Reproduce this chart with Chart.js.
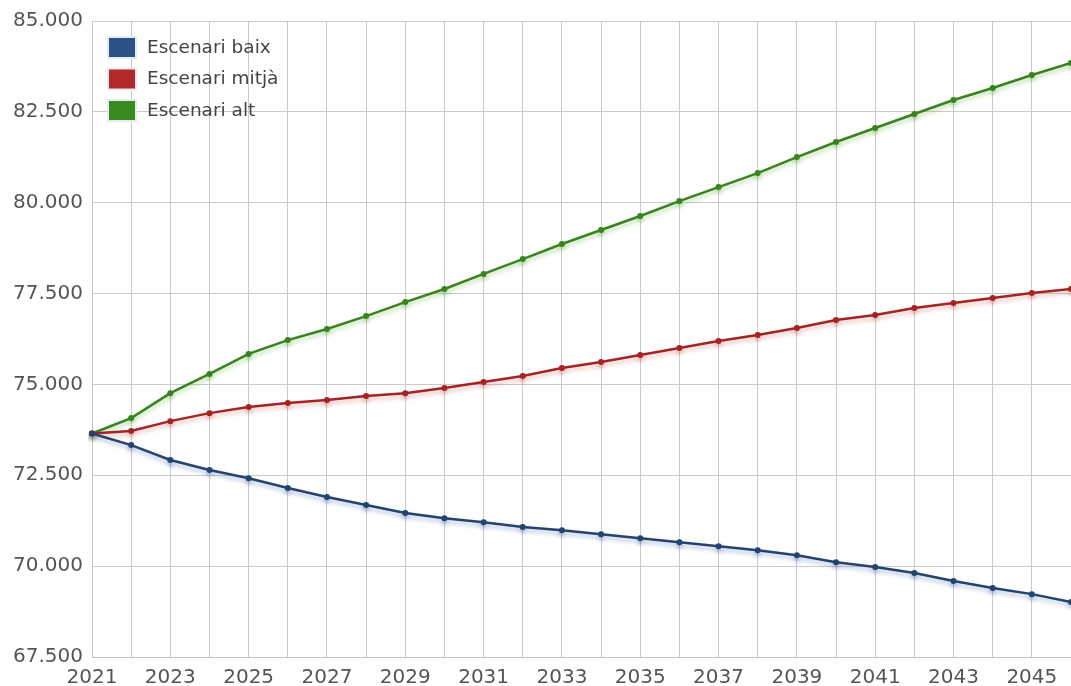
<!DOCTYPE html>
<html>
<head>
<meta charset="utf-8">
<script src="https://cdn.jsdelivr.net/npm/chart.js@4/dist/chart.umd.min.js"></script>
<style>
  html, body { margin: 0; padding: 0; background: #fff; }
  #wrap { width: 1071px; height: 686px; }
</style>
</head>
<body>
<div id="wrap"><canvas id="myChart" width="1071" height="686"></canvas></div>
<script>
const years = [2021, 2022, 2023, 2024, 2025, 2026, 2027, 2028, 2029, 2030, 2031, 2032, 2033,
  2034, 2035, 2036, 2037, 2038, 2039, 2040, 2041, 2042, 2043, 2044, 2045, 2046];

const baix = [73650, 73330, 72920, 72645, 72420, 72150, 71900, 71680, 71460, 71320, 71210, 71075, 70990,
  70880, 70770, 70660, 70550, 70440, 70300, 70110, 69975, 69810, 69590, 69400, 69230, 69010];

const mitja = [73650, 73720, 73990, 74210, 74380, 74490, 74570, 74680, 74760, 74900, 75065, 75230, 75450,
  75615, 75810, 76000, 76195, 76360, 76550, 76770, 76910, 77100, 77240, 77380, 77515, 77625];

const alt = [73650, 74075, 74760, 75290, 75840, 76220, 76525, 76880, 77265, 77625, 78040, 78450, 78865,
  79250, 79635, 80045, 80430, 80815, 81255, 81670, 82055, 82440, 82825, 83155, 83515, 83845];

const yTicks = [67500, 70000, 72500, 75000, 77500, 80000, 82500, 85000];

function fmt(v) {
  return String(v).replace(/\B(?=(\d{3})+(?!\d))/g, ".");
}

// soft shadow under each line, like the original
const lineShadow = {
  id: "lineShadow",
  beforeDatasetDraw(chart, args) {
    const ctx = chart.ctx;
    ctx.save();
    ctx.shadowColor = chart.data.datasets[args.index].shadowTint || "rgba(0,0,0,0.2)";
    ctx.shadowBlur = 4;
    ctx.shadowOffsetY = 3;
  },
  afterDatasetDraw(chart) {
    chart.ctx.restore();
  },
};

// legend box inside the plot, top left
const boxLegend = {
  id: "boxLegend",
  afterDraw(chart) {
    const ctx = chart.ctx;
    const area = chart.chartArea;
    let y = area.top + 16;
    ctx.save();
    ctx.font = "18.5px 'DejaVu Sans', Verdana, sans-serif";
    ctx.textBaseline = "middle";
    chart.data.datasets.forEach((ds) => {
      const x = area.left + 16;
      ctx.fillStyle = "#e4ecf3";
      ctx.fillRect(x - 1, y - 1, 30, 23);
      ctx.fillStyle = ds.legendColor;
      ctx.fillRect(x + 1, y + 1, 26, 19);
      ctx.fillStyle = "#444";
      ctx.fillText(ds.label, x + 39, y + 11);
      y += 31.5;
    });
    ctx.restore();
  },
};

Chart.defaults.font.family = "'DejaVu Sans', Verdana, sans-serif";
Chart.defaults.color = "#555";

new Chart(document.getElementById("myChart"), {
  type: "line",
  data: {
    labels: years,
    datasets: [
      {
        label: "Escenari baix",
        data: baix,
        borderColor: "#24436e",
        pointBackgroundColor: "#24436e",
        legendColor: "#2b5284",
        shadowTint: "rgba(60,100,170,0.4)",
      },
      {
        label: "Escenari mitjà",
        data: mitja,
        borderColor: "#a32424",
        pointBackgroundColor: "#a32424",
        legendColor: "#b32828",
        shadowTint: "rgba(200,60,60,0.35)",
      },
      {
        label: "Escenari alt",
        data: alt,
        borderColor: "#3a8220",
        pointBackgroundColor: "#3a8220",
        legendColor: "#3b8a20",
        shadowTint: "rgba(80,170,50,0.4)",
      },
    ],
  },
  options: {
    responsive: false,
    animation: false,
    elements: {
      line: { borderWidth: 2.5, tension: 0 },
      point: { radius: 3, borderWidth: 0, hoverRadius: 4 },
    },
    layout: { autoPadding: false, padding: { left: 0, right: 0, top: 9, bottom: 0 } },
    scales: {
      x: {
        offset: false,
        grid: { color: "#cbcbcb", drawTicks: false },
        border: { color: "#c4c4c4" },
        afterFit: (axis) => {
          axis.height = 29;
          axis.paddingRight = 0;
        },
        ticks: {
          autoSkip: false,
          maxRotation: 0,
          padding: 9,
          font: { size: 20 },
          color: "#555",
          callback: function (val, i) {
            return i % 2 === 0 ? years[i] : "";
          },
        },
      },
      y: {
        min: yTicks[0],
        max: yTicks[yTicks.length - 1],
        afterBuildTicks: (axis) => {
          axis.ticks = yTicks.map((v) => ({ value: v }));
        },
        afterFit: (axis) => { axis.width = 92; },
        grid: { color: "#cbcbcb", drawTicks: false },
        border: { color: "#c4c4c4" },
        ticks: {
          padding: 9,
          font: { size: 20 },
          color: "#555",
          callback: (v) => fmt(v),
        },
      },
    },
    plugins: {
      legend: { display: false },
      tooltip: { enabled: false },
    },
  },
  plugins: [lineShadow, boxLegend],
});
</script>
</body>
</html>
